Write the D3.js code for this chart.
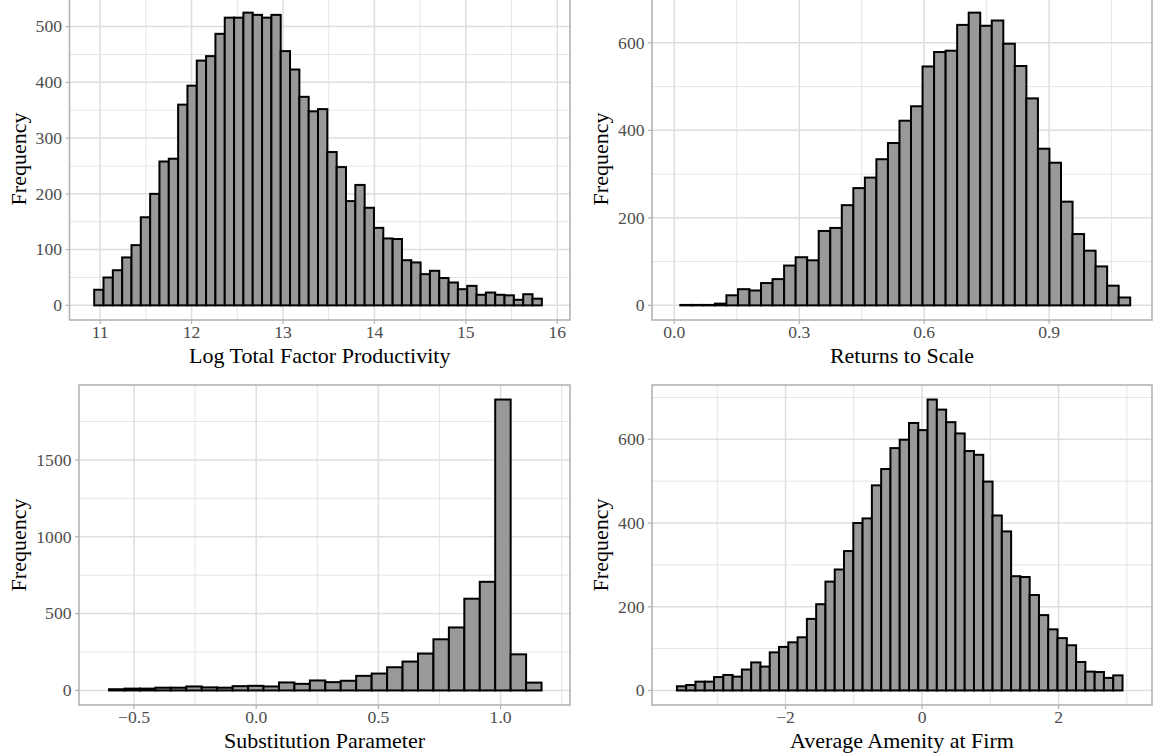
<!DOCTYPE html>
<html>
<head>
<meta charset="utf-8">
<script src="https://cdn.jsdelivr.net/npm/d3@7"></script>
<style>
  html, body { margin: 0; padding: 0; background: #fff; }
  svg { display: block; }
  .tick-label { font-family: "Liberation Serif", "Times New Roman", serif; font-size: 17.6px; fill: #4d4d4d; }
  .axis-title { font-family: "Liberation Serif", "Times New Roman", serif; font-size: 22px; fill: #000; }
</style>
</head>
<body>
<div id="chart"></div>
<script>
// histogram counts, one array per panel
const tfpCounts = [28, 50, 63, 86, 108, 158, 200, 258, 263, 360, 394, 439, 447, 487, 516, 516,
  525, 521, 516, 521, 456, 423, 374, 348, 352, 275, 248, 187, 216, 175, 139, 120, 119, 81,
  77, 56, 62, 49, 41, 29, 35, 19, 23, 19, 18, 10, 20, 12]
const tfpBins = { start: 10.935, width: 0.102 }

const rtsCounts = [1, 1, 1, 4, 23, 37, 34, 51, 60, 91, 110, 103, 170, 177, 229, 268, 292,
  334, 371, 422, 455, 546, 579, 582, 641, 669, 639, 651, 598, 547, 473, 358, 326, 237, 163,
  125, 89, 45, 18]
const rtsBins = { start: 0.0144, width: 0.0277 }

const subCounts = [8, 12, 12, 18, 18, 26, 20, 18, 28, 30, 26, 52, 43, 65, 54, 63, 95, 110,
  151, 188, 240, 333, 410, 597, 707, 1893, 235, 51]
const subBins = { start: -0.602, width: 0.0632 }

const amenCounts = [10, 13, 21, 21, 32, 37, 33, 50, 67, 57, 91, 104, 115, 127, 171, 206, 260,
  289, 333, 400, 411, 490, 529, 579, 599, 639, 622, 695, 671, 641, 614, 572, 563, 499, 418,
  380, 273, 271, 228, 180, 146, 125, 108, 68, 45, 44, 30, 36]
const amenBins = { start: -3.591, width: 0.136 }

// axis breaks and labels
const tfpTicks = [11, 12, 13, 14, 15, 16]
const tfpMinor = [11.5, 12.5, 13.5, 14.5, 15.5]
const tfpYTicks = [0, 100, 200, 300, 400, 500]
const tfpYMinor = [50, 150, 250, 350, 450, 550]

const rtsTicks = [0, 0.3, 0.6, 0.9]
const rtsTickLabels = ["0.0", "0.3", "0.6", "0.9"]
const rtsMinor = [0.15, 0.45, 0.75, 1.05]
const rtsYTicks = [0, 200, 400, 600]
const rtsYMinor = [100, 300, 500, 700]

const subTicks = [-0.5, 0, 0.5, 1]
const subTickLabels = ["\u22120.5", "0.0", "0.5", "1.0"]
const subMinor = [-0.25, 0.25, 0.75, 1.25]
const subYTicks = [0, 500, 1000, 1500]
const subYMinor = [250, 750, 1250, 1750]

const amenTicks = [-2, 0, 2]
const amenTickLabels = ["\u22122", "0", "2"]
const amenMinor = [-3, -1, 1, 3]
const amenYTicks = [0, 200, 400, 600]
const amenYMinor = [100, 300, 500, 700]

const width = 1153
const height = 756

const svg = d3
  .select("#chart")
  .append("svg")
  .attr("width", width)
  .attr("height", height)
  .attr("viewBox", [0, 0, width, height])

const panels = [
  {
    counts: tfpCounts, bins: tfpBins, xDomain: [10.665, 16.139],
    xTicks: tfpTicks, xLabels: tfpTicks.map(String), xMinor: tfpMinor,
    yTicks: tfpYTicks, yMinor: tfpYMinor,
    title: "Log Total Factor Productivity",
    box: { left: 69.5, right: 570, top: -2, bottom: 320 }, yTitleX: 26,
  },
  {
    counts: rtsCounts, bins: rtsBins, xDomain: [-0.0535, 1.147],
    xTicks: rtsTicks, xLabels: rtsTickLabels, xMinor: rtsMinor,
    yTicks: rtsYTicks, yMinor: rtsYMinor,
    title: "Returns to Scale",
    box: { left: 652, right: 1152, top: -2, bottom: 320 }, yTitleX: 607.5,
  },
  {
    counts: subCounts, bins: subBins, xDomain: [-0.725, 1.284],
    xTicks: subTicks, xLabels: subTickLabels, xMinor: subMinor,
    yTicks: subYTicks, yMinor: subYMinor,
    title: "Substitution Parameter",
    box: { left: 79, right: 570, top: 385, bottom: 705 }, yTitleX: 26,
  },
  {
    counts: amenCounts, bins: amenBins, xDomain: [-3.956, 3.369],
    xTicks: amenTicks, xLabels: amenTickLabels, xMinor: amenMinor,
    yTicks: amenYTicks, yMinor: amenYMinor,
    title: "Average Amenity at Firm",
    box: { left: 652, right: 1152, top: 385, bottom: 705 }, yTitleX: 607.5,
  },
]

function drawPanel(p) {
  const b = p.box
  const yMax = d3.max(p.counts)
  const x = d3.scaleLinear().domain(p.xDomain).range([b.left, b.right])
  const y = d3.scaleLinear().domain([-0.05 * yMax, 1.05 * yMax]).range([b.bottom, b.top])

  const bars = p.counts.map((n, i) => ({
    x0: p.bins.start + i * p.bins.width,
    x1: p.bins.start + (i + 1) * p.bins.width,
    n: n,
  }))

  const g = svg.append("g")

  // minor grid
  g.selectAll()
    .data(p.xMinor)
    .join("line")
    .attr("x1", (d) => x(d))
    .attr("x2", (d) => x(d))
    .attr("y1", b.top)
    .attr("y2", b.bottom)
    .attr("stroke", "#dedede")
    .attr("stroke-width", 0.8)
  g.selectAll()
    .data(p.yMinor.filter((d) => y(d) > b.top))
    .join("line")
    .attr("x1", b.left)
    .attr("x2", b.right)
    .attr("y1", (d) => y(d))
    .attr("y2", (d) => y(d))
    .attr("stroke", "#dedede")
    .attr("stroke-width", 0.8)

  // major grid
  g.selectAll()
    .data(p.xTicks)
    .join("line")
    .attr("x1", (d) => x(d))
    .attr("x2", (d) => x(d))
    .attr("y1", b.top)
    .attr("y2", b.bottom)
    .attr("stroke", "#dedede")
    .attr("stroke-width", 1.5)
  g.selectAll()
    .data(p.yTicks)
    .join("line")
    .attr("x1", b.left)
    .attr("x2", b.right)
    .attr("y1", (d) => y(d))
    .attr("y2", (d) => y(d))
    .attr("stroke", "#dedede")
    .attr("stroke-width", 1.5)

  // bars
  g.selectAll()
    .data(bars)
    .join("rect")
    .attr("x", (d) => x(d.x0))
    .attr("y", (d) => y(d.n))
    .attr("width", (d) => x(d.x1) - x(d.x0))
    .attr("height", (d) => y(0) - y(d.n))
    .attr("fill", "#999999")
    .attr("stroke", "#000")
    .attr("stroke-width", 2)

  // panel border
  g.append("rect")
    .attr("x", b.left)
    .attr("y", b.top)
    .attr("width", b.right - b.left)
    .attr("height", b.bottom - b.top)
    .attr("fill", "none")
    .attr("stroke", "#b3b3b3")
    .attr("stroke-width", 1.6)

  // tick marks
  g.selectAll()
    .data(p.xTicks)
    .join("line")
    .attr("x1", (d) => x(d))
    .attr("x2", (d) => x(d))
    .attr("y1", b.bottom)
    .attr("y2", b.bottom + 4)
    .attr("stroke", "#b3b3b3")
    .attr("stroke-width", 1.2)
  g.selectAll()
    .data(p.yTicks)
    .join("line")
    .attr("x1", b.left - 4)
    .attr("x2", b.left)
    .attr("y1", (d) => y(d))
    .attr("y2", (d) => y(d))
    .attr("stroke", "#b3b3b3")
    .attr("stroke-width", 1.2)

  // tick labels
  g.selectAll()
    .data(p.xTicks)
    .join("text")
    .attr("class", "tick-label")
    .attr("x", (d) => x(d))
    .attr("y", b.bottom + 6)
    .attr("dy", "0.71em")
    .attr("text-anchor", "middle")
    .text((d, i) => p.xLabels[i])
  g.selectAll()
    .data(p.yTicks)
    .join("text")
    .attr("class", "tick-label")
    .attr("x", b.left - 7.5)
    .attr("y", (d) => y(d))
    .attr("dy", "0.33em")
    .attr("text-anchor", "end")
    .text((d) => d)

  // axis titles
  g.append("text")
    .attr("class", "axis-title")
    .attr("x", (b.left + b.right) / 2)
    .attr("y", b.bottom + 42.5)
    .attr("text-anchor", "middle")
    .text(p.title)
  g.append("text")
    .attr("class", "axis-title")
    .attr("transform", `translate(${p.yTitleX},${(b.top + b.bottom) / 2}) rotate(-90)`)
    .attr("text-anchor", "middle")
    .text("Frequency")
}

panels.forEach(drawPanel)
</script>
</body>
</html>
